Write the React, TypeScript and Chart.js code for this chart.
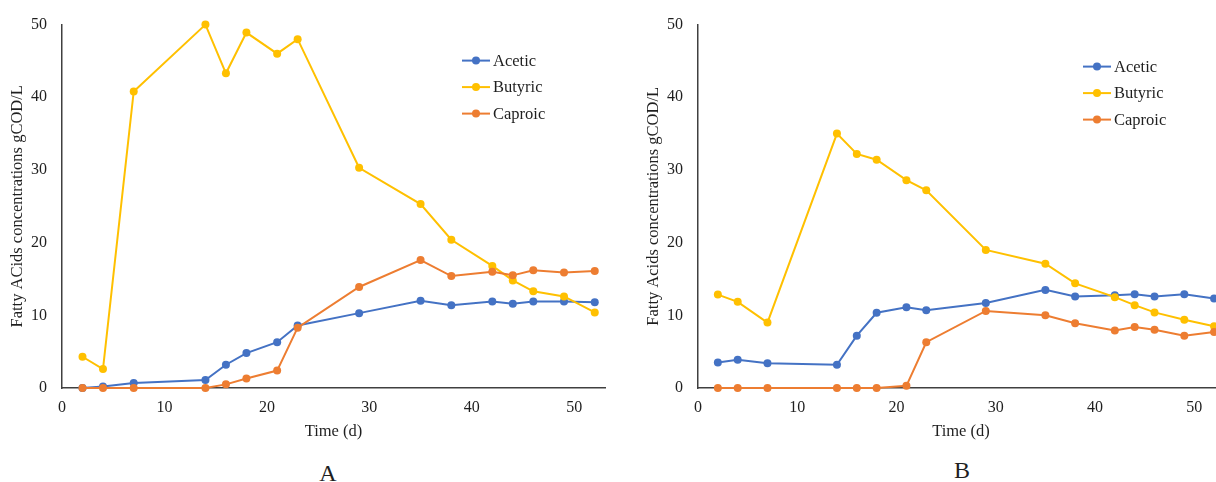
import React, { useEffect, useRef } from "react";
import { Chart, registerables } from "chart.js";

Chart.register(...registerables);

// ---- Data ----
const days = [2, 4, 7, 14, 16, 18, 21, 23, 29, 35, 38, 42, 44, 46, 49, 52];

const aceticA = [0, 0.2, 0.7, 1.1, 3.2, 4.8, 6.3, 8.6, 10.3, 12.0, 11.4, 11.9, 11.6, 11.9, 11.9, 11.8];
const butyricA = [4.3, 2.6, 40.8, 50.0, 43.3, 48.9, 46.0, 48.0, 30.3, 25.3, 20.4, 16.8, 14.8, 13.3, 12.6, 10.4];
const caproicA = [0, 0, 0, 0, 0.5, 1.3, 2.4, 8.3, 13.9, 17.6, 15.4, 16.0, 15.5, 16.2, 15.9, 16.1];

const aceticB = [3.5, 3.9, 3.4, 3.2, 7.2, 10.35, 11.1, 10.7, 11.7, 13.5, 12.6, 12.75, 12.9, 12.6, 12.9, 12.3];
const butyricB = [12.85, 11.85, 9.0, 35.0, 32.2, 31.4, 28.6, 27.2, 19.0, 17.1, 14.4, 12.5, 11.4, 10.4, 9.4, 8.5];
const caproicB = [0, 0, 0, 0, 0, 0, 0.3, 6.3, 10.6, 10.0, 8.9, 7.9, 8.4, 8.0, 7.2, 7.7];

const seriesNames = ["Acetic", "Butyric", "Caproic"];
const seriesColors = ["#4472C4", "#FFC000", "#ED7D31"];

const yTitleA = "Fatty ACids concentrations gCOD/L";
const yTitleB = "Fatty Acids concentrations gCOD/L";
const xTitle = "Time (d)";

const FONT = "'Liberation Serif', 'Times New Roman', serif";
const TEXT = "#1f1f1f";

const lineLegendPlugin = {
  id: "lineLegend",
  afterDraw(chart: any) {
    const cfg = chart.options.plugins.lineLegend;
    if (!cfg) return;
    const { ctx, chartArea } = chart;
    const x = chartArea.right - cfg.fromRight;
    ctx.save();
    chart.data.datasets.forEach((ds: any, i: number) => {
      const y = chartArea.top + cfg.top + i * cfg.dy;
      ctx.strokeStyle = ds.borderColor;
      ctx.lineWidth = 2;
      ctx.beginPath();
      ctx.moveTo(x, y);
      ctx.lineTo(x + 28, y);
      ctx.stroke();
      ctx.fillStyle = ds.borderColor;
      ctx.beginPath();
      ctx.arc(x + 14, y, 4, 0, Math.PI * 2);
      ctx.fill();
      ctx.fillStyle = TEXT;
      ctx.font = `16.5px ${FONT}`;
      ctx.textBaseline = "middle";
      ctx.textAlign = "left";
      ctx.fillText(ds.label, x + 31, y + 1);
    });
    ctx.restore();
  },
};

function makeConfig(values: number[][], yTitle: string, legend: any) {
  return {
    type: "line" as const,
    data: {
      datasets: values.map((vals, i) => ({
        label: seriesNames[i],
        data: days.map((d, j) => ({ x: d, y: vals[j] })),
        borderColor: seriesColors[i],
        backgroundColor: seriesColors[i],
        borderWidth: 2,
        pointRadius: 4,
        pointHoverRadius: 4,
        pointBorderWidth: 0,
        tension: 0,
        clip: false as any,
        order: 3 - i,
      })),
    },
    options: {
      animation: false as const,
      responsive: false,
      maintainAspectRatio: false,
      layout: { padding: { left: 0, top: 20, right: 15, bottom: 0 } },
      plugins: {
        legend: { display: false },
        tooltip: { enabled: false },
        lineLegend: legend,
      },
      scales: {
        x: {
          type: "linear" as const,
          min: 0,
          max: 53,
          afterBuildTicks: (s: any) => {
            s.ticks = s.ticks.filter((t: any) => t.value % 10 === 0);
          },
          afterFit: (s: any) => {
            s.height = 62;
          },
          grid: { display: false, drawTicks: false },
          border: { display: true, color: "#404040", width: 1.5 },
          ticks: { stepSize: 10, padding: 10, color: TEXT, font: { family: FONT, size: 16 } },
          title: {
            display: true,
            text: xTitle,
            color: TEXT,
            font: { family: FONT, size: 16.5 },
            padding: { top: 0, bottom: 8.2 },
          },
        },
        y: {
          min: 0,
          max: 50,
          afterFit: (s: any) => {
            s.width = 62;
          },
          grid: { display: false, drawTicks: false },
          border: { display: true, color: "#404040", width: 1.5 },
          ticks: { stepSize: 10, padding: 15, color: TEXT, font: { family: FONT, size: 16 } },
          title: {
            display: true,
            text: yTitle,
            color: TEXT,
            font: { family: FONT, size: 16.5 },
            padding: { top: 8.2, bottom: 0 },
          },
        },
      },
    },
    plugins: [lineLegendPlugin],
  };
}

function LineChart(props: {
  values: number[][];
  yTitle: string;
  legend: any;
  left: number;
  width: number;
}) {
  const ref = useRef<HTMLCanvasElement | null>(null);
  useEffect(() => {
    if (!ref.current) return;
    const chart = new Chart(ref.current, makeConfig(props.values, props.yTitle, props.legend) as any);
    return () => chart.destroy();
  }, []);
  return (
    <canvas
      ref={ref}
      width={props.width}
      height={450}
      style={{ position: "absolute", left: props.left, top: 0, width: props.width, height: 450 }}
    />
  );
}

export default function App() {
  const labelStyle: React.CSSProperties = {
    position: "absolute",
    width: 100,
    textAlign: "center",
    fontFamily: FONT,
    fontSize: 24,
    lineHeight: "24px",
    color: TEXT,
  };
  return (
    <div
      style={{
        position: "fixed",
        left: 0,
        top: 0,
        width: 1216,
        height: 482,
        overflow: "hidden",
        background: "#ffffff",
      }}
    >
      <LineChart
        values={[aceticA, butyricA, caproicA]}
        yTitle={yTitleA}
        legend={{ fromRight: 143, top: 36, dy: 26.5 }}
        left={0}
        width={620}
      />
      <LineChart
        values={[aceticB, butyricB, caproicB]}
        yTitle={yTitleB}
        legend={{ fromRight: 141, top: 42, dy: 26.5 }}
        left={636}
        width={603}
      />
      <div style={{ ...labelStyle, left: 278, top: 461 }}>A</div>
      <div style={{ ...labelStyle, left: 912, top: 458 }}>B</div>
    </div>
  );
}
